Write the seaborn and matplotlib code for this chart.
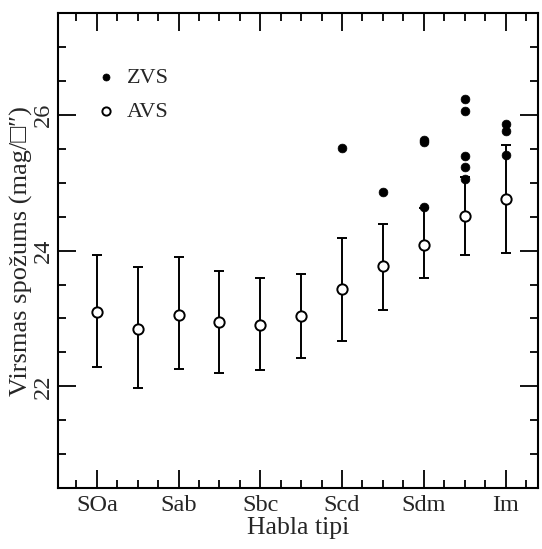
import numpy as np
import pandas as pd
import matplotlib
matplotlib.use("Agg")
import matplotlib.pyplot as plt
from matplotlib.ticker import MultipleLocator
import seaborn as sns

# Habla tipi: galvenās iezīmes un starppozīcijas
type_labels = ["SOa", "Sab", "Sbc", "Scd", "Sdm", "Im"]
type_pos = [0, 2, 4, 6, 8, 10]

# AVS - vidējās vērtības ar kļūdām
avs_x = [0, 1, 2, 3, 4, 5, 6, 7, 8, 9, 10]
avs_y = [23.09, 22.84, 23.05, 22.95, 22.91, 23.04, 23.44, 23.77, 24.09, 24.51, 24.76]
avs_lo = [22.28, 21.97, 22.25, 22.19, 22.24, 22.42, 22.67, 23.13, 23.59, 23.93, 23.97]
avs_hi = [23.94, 23.76, 23.91, 23.70, 23.60, 23.66, 24.19, 24.39, 24.63, 25.08, 25.56]

# ZVS - atsevišķās galaktikas
zvs_x = [6, 7, 8, 8, 8, 9, 9, 9, 9, 9, 10, 10, 10]
zvs_y = [25.51, 24.87, 25.63, 25.60, 24.65, 26.24, 26.06, 25.39, 25.23, 25.05,
         25.87, 25.77, 25.41]

sns.set_style("ticks")
plt.rcParams['font.family'] = ['Liberation Serif', 'DejaVu Serif', 'DejaVu Sans']

fig = plt.figure(figsize=(5.42, 5.49), dpi=100)
ax = fig.add_axes([0.107, 0.111, 0.886, 0.865])

zvs = pd.DataFrame({"x": zvs_x, "y": zvs_y})
avs = pd.DataFrame({"x": avs_x, "y": avs_y})

ax.errorbar(avs["x"], avs["y"],
            yerr=[np.array(avs_y) - np.array(avs_lo), np.array(avs_hi) - np.array(avs_y)],
            fmt="none", ecolor="black", elinewidth=1.4, capsize=3.8, capthick=1.4, zorder=2)
sns.scatterplot(data=zvs, x="x", y="y", ax=ax, marker="o", s=40, color="black",
                edgecolor="black", linewidth=0.5, label="ZVS", zorder=3)
sns.scatterplot(data=avs, x="x", y="y", ax=ax, marker="o", s=55, facecolor="white",
                edgecolor="black", linewidth=1.4, label="AVS", zorder=4)

ax.set_xlim(-0.95, 10.8)
ax.set_ylim(20.5, 27.5)
ax.set_xticks(type_pos)
ax.set_xticklabels(type_labels)
ax.xaxis.set_minor_locator(MultipleLocator(0.5))
ax.set_yticks([22, 24, 26])
ax.yaxis.set_minor_locator(MultipleLocator(0.5))
for lab in ax.get_yticklabels():
    lab.set_rotation(90)
    lab.set_va("center")

ax.tick_params(which="both", direction="in", top=True, right=True, color="black", width=1.3)
ax.tick_params(which="major", length=13, labelsize=17.5)
ax.tick_params(axis="x", which="major", pad=5)
ax.tick_params(axis="y", which="major", pad=3)
ax.tick_params(which="minor", length=6)
for sp in ax.spines.values():
    sp.set_linewidth(1.5)
    sp.set_color("black")

ax.set_xlabel("Habla tipi", fontsize=18.5, labelpad=1)
ax.set_ylabel("Virsmas spožums (mag/□″)", fontsize=19, labelpad=0)

leg = ax.legend(loc="upper left", bbox_to_anchor=(0.058, 0.905), frameon=False,
                fontsize=16, handlelength=1.0, handletextpad=0.45, labelspacing=0.6,
                borderaxespad=0, markerscale=0.8)

fig.savefig("out.png", dpi=100)
